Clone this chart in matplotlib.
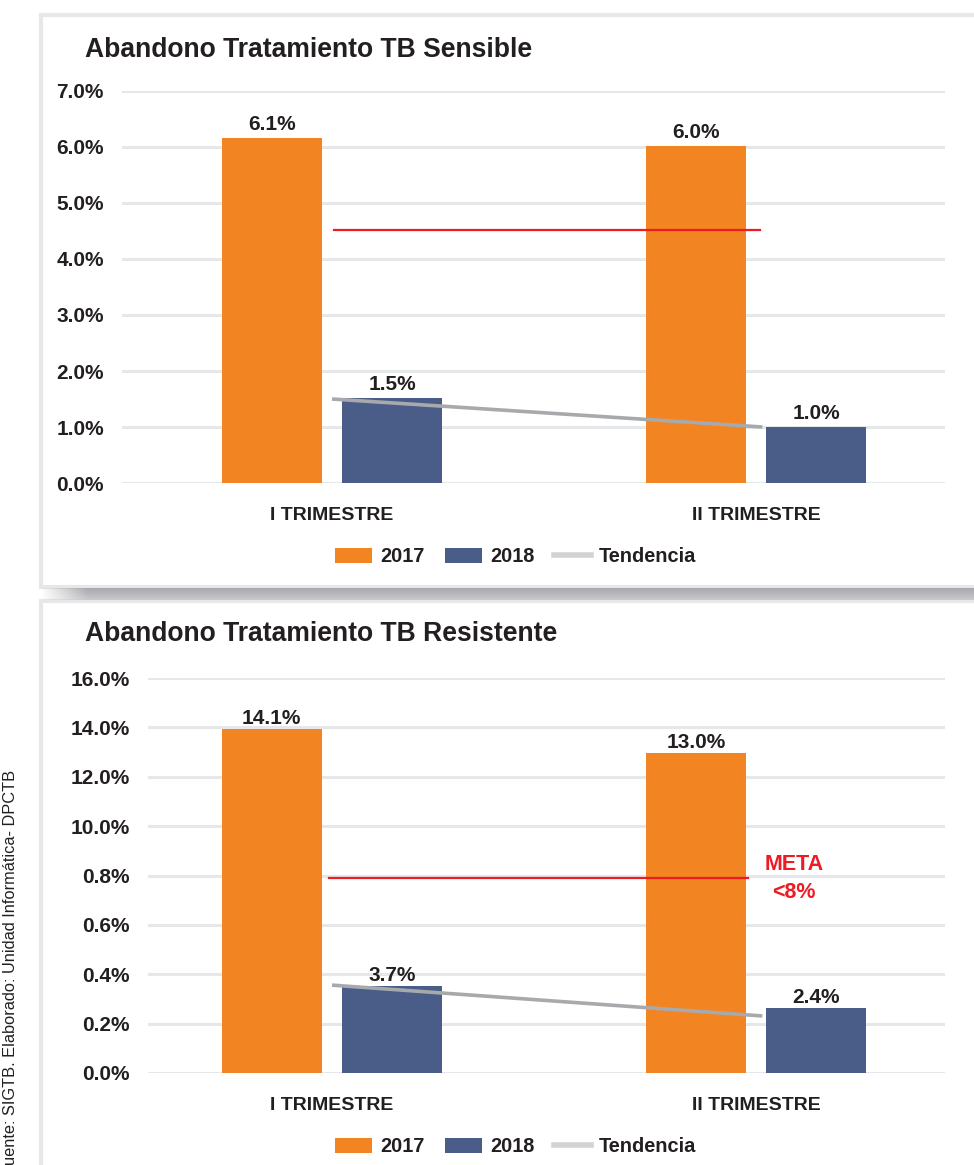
import numpy as np
import matplotlib
matplotlib.use('Agg')
import matplotlib.pyplot as plt
from matplotlib.patches import Rectangle, Patch
from matplotlib.lines import Line2D

plt.rcParams['font.family'] = ['Liberation Sans', 'DejaVu Sans']

#-- data --
categories = ['I TRIMESTRE', 'II TRIMESTRE']
series = ['2017', '2018']

#- Sensible -
sens_2017 = [6.16, 6.02]
sens_2018 = [1.52, 1.00]
sens_lab17 = ['6.1%', '6.0%']
sens_lab18 = ['1.5%', '1.0%']
sens_trend = [1.50, 1.00]
sens_meta = 4.52
sens_yticks = [0, 1, 2, 3, 4, 5, 6, 7]
sens_ylabels = ['0.0%', '1.0%', '2.0%', '3.0%', '4.0%', '5.0%', '6.0%', '7.0%']

#- Resistente -
res_2017 = [13.93, 12.96]
res_2018 = [3.52, 2.63]
res_lab17 = ['14.1%', '13.0%']
res_lab18 = ['3.7%', '2.4%']
res_trend = [3.56, 2.31]
res_meta = 7.9
res_yticks = [0, 2, 4, 6, 8, 10, 12, 14, 16]
res_ylabels = ['0.0%', '0.2%', '0.4%', '0.6%', '0.8%', '10.0%', '12.0%', '14.0%', '16.0%']

#-- style --
c17 = '#f38422'
c18 = '#4a5c88'
cTrend = '#a7a9ac'
cTrendLeg = '#d1d3d4'
cMeta = '#ed1c24'
cGrid = '#e6e7e8'
cTxt = '#231f20'
W, H = 974., 1165.

fig = plt.figure(figsize=(9.74, 11.65), dpi=100)

def fx(px):
    return px / W

def fy(py):
    return 1 - py / H

#-- boxes --
for (y0, y1) in [(15, 587), (601, 1180)]:
    fig.add_artist(Rectangle((fx(41), fy(y1)), fx(960), (y1 - y0) / H,
                             transform=fig.transFigure, facecolor='white',
                             edgecolor=cGrid, lw=3, zorder=0))

#- shadow band -
axs = fig.add_axes([fx(40), fy(600), 1 - fx(40), 12 / H])
axs.axis('off')
ny, nx = 24, 400
grad = np.linspace(0.65, 0.79, ny)[:, None] * np.ones((1, nx))
rgba = np.ones((ny, nx, 4))
rgba[..., 0] = grad
rgba[..., 1] = grad
rgba[..., 2] = grad + 0.015
fade = np.clip(np.linspace(0, 1, nx) / 0.05, 0, 1)
rgba[..., 3] = fade[None, :]
axs.imshow(rgba, aspect='auto', extent=[0, 1, 0, 1])

x = np.arange(len(categories))
off = 0.142
bw = 0.236
ppu = 424.  # pixels per category unit
xc0 = 332.  # pixel of first category


def make_panel(left_px, bot_px, top_px, title, v17, v18, l17, l18, trend, meta,
               yticks, ylabels, ymax, lab_off, meta_x, title_base, leg_y):
    ax = fig.add_axes([fx(left_px), fy(bot_px), fx(945 - left_px), (bot_px - top_px) / H])
    ax.set_facecolor('none')
    ax.bar(x - off, v17, bw, color=c17, zorder=2)
    ax.bar(x + off, v18, bw, color=c18, zorder=2)
    for i in range(len(categories)):
        ax.annotate(l17[i], (x[i] - off, v17[i]), xytext=(0, lab_off), textcoords='offset points',
                    ha='center', va='bottom', fontsize=15, fontweight='bold', color=cTxt)
        ax.annotate(l18[i], (x[i] + off, v18[i]), xytext=(0, lab_off), textcoords='offset points',
                    ha='center', va='bottom', fontsize=15, fontweight='bold', color=cTxt)
    ax.plot([x[0], x[1] + 0.015], trend, color=cTrend, lw=2.6, zorder=3, solid_capstyle='butt')
    ax.plot(meta_x, [meta, meta], color=cMeta, lw=1.6, zorder=3)
    ax.set_xlim((left_px - xc0) / ppu, (945 - xc0) / ppu)
    ax.set_ylim(0, ymax)
    ax.set_yticks(yticks)
    ax.set_yticklabels(ylabels, fontsize=15, fontweight='bold', color=cTxt)
    ax.set_xticks(x)
    ax.set_xticklabels(categories, fontsize=14, fontweight='bold', color=cTxt)
    ax.tick_params(axis='y', length=0, pad=13)
    ax.tick_params(axis='x', length=0, pad=17)
    ax.grid(axis='y', color=cGrid, lw=2.2, zorder=0)
    for s in ax.spines.values():
        s.set_visible(False)
    fig.text(fx(85), fy(title_base), title, fontsize=19.1, fontweight='bold', color=cTxt,
             ha='left', va='baseline')
    handles = [Patch(facecolor=c17, label=series[0]),
               Patch(facecolor=c18, label=series[1]),
               Line2D([0], [0], color=cTrendLeg, lw=4, label='Tendencia')]
    leg = fig.legend(handles=handles, loc='center', bbox_to_anchor=(fx(516), fy(leg_y)),
                     ncol=3, frameon=False, prop={'size': 14.4, 'weight': 'bold'},
                     handlelength=1.85, handleheight=0.75, handletextpad=0.4,
                     columnspacing=1.0)
    for t in leg.get_texts():
        t.set_color(cTxt)
    return ax


ax1 = make_panel(122, 483, 91, 'Abandono Tratamiento TB Sensible',
                 sens_2017, sens_2018, sens_lab17, sens_lab18, sens_trend, sens_meta,
                 sens_yticks, sens_ylabels, 7, 3, [0.005, 1.01], 57, 557)

ax2 = make_panel(148, 1073, 678, 'Abandono Tratamiento TB Resistente',
                 res_2017, res_2018, res_lab17, res_lab18, res_trend, res_meta,
                 res_yticks, res_ylabels, 16, 0.5, [-0.007, 0.98], 641, 1147)

ax2.text(1.09, 8.45, 'META', ha='center', va='center', fontsize=15.5,
         fontweight='bold', color=cMeta)
ax2.text(1.09, 7.3, '<8%', ha='center', va='center', fontsize=15.5,
         fontweight='bold', color=cMeta)

fig.text(fx(11), fy(770), 'Fuente: SIGTB. Elaborado: Unidad Informática- DPCTB',
         rotation=90, ha='center', va='top', fontsize=11.75, color=cTxt)

fig.savefig('out.png', dpi=100)
